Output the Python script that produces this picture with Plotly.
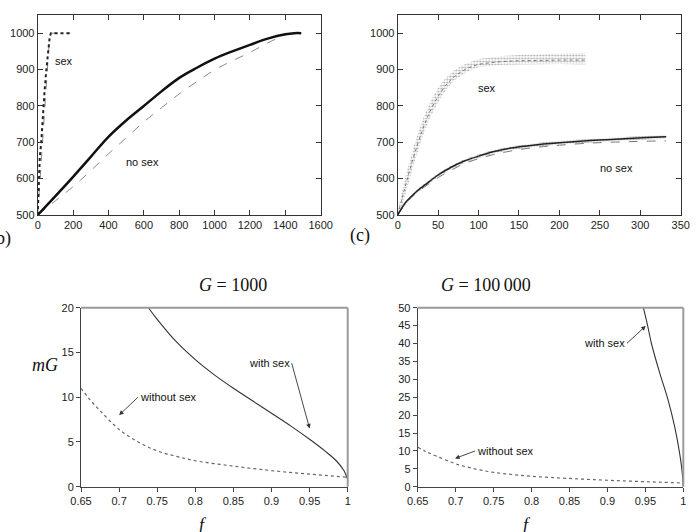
import plotly.graph_objects as go

# ---------------- data ----------------
# panel (b): fitness vs time, G = 1000
b_sex_x = [0, 5, 12, 20, 30, 40, 50, 60, 68, 75, 100, 140, 185]
b_sex_y = [500, 600, 660, 700, 780, 850, 905, 955, 990, 1000, 1000, 1000, 1000]
b_sex_th_x = [0, 10, 30, 50, 65, 75, 185]
b_sex_th_y = [500, 570, 720, 870, 975, 1000, 1000]
b_nosex_x = [0, 100, 200, 300, 400, 500, 600, 700, 800, 900, 1000, 1100, 1200, 1300, 1400, 1450, 1490]
b_nosex_y = [500, 552, 605, 660, 715, 760, 800, 840, 877, 905, 930, 950, 968, 985, 997, 1000, 1000]
b_nosex_th_y = [500, 539, 578, 622, 668, 712, 756, 795, 833, 867, 899, 924, 947, 973, 995, 1000, 1000]

# panel (c): fitness vs time, G = 100000 (noisy bands: lower / upper envelope)
c_sex_x = [0, 5, 10, 20, 30, 40, 50, 60, 70, 80, 90, 100, 115, 130, 150, 175, 200, 232]
c_sex_lo = [495, 520, 560, 640, 712, 768, 810, 845, 870, 886, 898, 906, 910, 913, 914, 915, 915, 914]
c_sex_hi = [510, 565, 610, 690, 758, 810, 850, 878, 898, 912, 921, 929, 933, 937, 940, 942, 944, 946]
c_sex_th = [500, 542, 584, 662, 730, 785, 826, 858, 880, 896, 907, 914, 919, 922, 924, 925, 926, 926]
c_nosex_x = [0, 10, 23, 35, 50, 65, 81, 100, 118, 140, 160, 180, 200, 225, 250, 275, 291, 310, 332]
c_nosex_lo = [497, 530, 559, 580, 605, 625, 642, 657, 669, 679, 685, 690, 694, 698, 701, 704, 706, 708, 710]
c_nosex_hi = [504, 539, 569, 590, 615, 635, 652, 667, 679, 689, 695, 700, 704, 708, 711, 714, 716, 718, 720]
c_nosex_mid = [500, 535, 564, 585, 610, 630, 647, 662, 674, 684, 690, 695, 699, 703, 706, 709, 711, 713, 715]
c_nosex_th = [500, 532, 560, 580, 603, 622, 640, 655, 666, 676, 683, 688, 692, 696, 699, 701, 702, 703, 704]

# panel G = 1000: mG vs f
d_sex_f = [0.7385, 0.75, 0.775, 0.8, 0.825, 0.85, 0.875, 0.9, 0.925, 0.95, 0.97, 0.985, 0.995, 1.0]
d_sex_mg = [20, 18.7, 16.2, 14.2, 12.5, 11.0, 9.6, 8.2, 6.8, 5.3, 4.0, 2.9, 1.8, 0.8]
nosex_f = [0.65, 0.66, 0.675, 0.7, 0.725, 0.75, 0.775, 0.8, 0.85, 0.9, 0.95, 1.0]
nosex_mg = [11.0, 9.9, 8.5, 6.4, 5.0, 4.0, 3.4, 2.9, 2.3, 1.8, 1.4, 1.05]

# panel G = 100000
e_sex_f = [0.9474, 0.953, 0.958, 0.969, 0.98, 0.9886, 0.9952, 0.9987, 1.0]
e_sex_mg = [50, 45, 40, 31.7, 24.2, 16.8, 9.3, 3.7, 0]

f_ticks = [0.65, 0.7, 0.75, 0.8, 0.85, 0.9, 0.95, 1.0]
f_labels = ["0.65", "0.7", "0.75", "0.8", "0.85", "0.9", "0.95", "1"]

# ---------------- figure ----------------
W, H = 700, 532
def px(x):
    return x / W
def py(y):
    return 1 - y / H

fig = go.Figure()

DARK = "#111111"
GRAY = "#8a8a8a"

# (b)
fig.add_trace(go.Scatter(x=b_sex_th_x, y=b_sex_th_y, mode="lines",
                         line=dict(color=GRAY, width=1, dash="dash"), xaxis="x", yaxis="y"))
fig.add_trace(go.Scatter(x=b_sex_x, y=b_sex_y, mode="lines",
                         line=dict(color="#222", width=2, dash="dot"), xaxis="x", yaxis="y"))
fig.add_trace(go.Scatter(x=b_nosex_x, y=b_nosex_th_y, mode="lines", line_shape="spline",
                         line=dict(color=GRAY, width=1, dash="dash"), xaxis="x", yaxis="y"))
fig.add_trace(go.Scatter(x=b_nosex_x, y=b_nosex_y, mode="lines", line_shape="spline",
                         line=dict(color=DARK, width=2.5), xaxis="x", yaxis="y"))

# (c)
fig.add_trace(go.Scatter(x=c_sex_x, y=c_sex_lo, mode="lines",
                         line=dict(width=0, color="rgba(0,0,0,0)"), xaxis="x2", yaxis="y2"))
fig.add_trace(go.Scatter(x=c_sex_x, y=c_sex_hi, mode="lines",
                         line=dict(width=0, color="rgba(0,0,0,0)"),
                         fill="tonexty", fillcolor="rgba(180,180,180,0.35)",
                         fillpattern=dict(shape=".", fgcolor="#555", bgcolor="rgba(0,0,0,0)",
                                          size=3, solidity=0.35),
                         xaxis="x2", yaxis="y2"))
fig.add_trace(go.Scatter(x=c_sex_x, y=c_sex_th, mode="lines", line_shape="spline",
                         line=dict(color="#777", width=1, dash="dot"), xaxis="x2", yaxis="y2"))
fig.add_trace(go.Scatter(x=c_nosex_x, y=c_nosex_lo, mode="lines",
                         line=dict(width=0, color="rgba(0,0,0,0)"), xaxis="x2", yaxis="y2"))
fig.add_trace(go.Scatter(x=c_nosex_x, y=c_nosex_hi, mode="lines",
                         line=dict(width=0, color="rgba(0,0,0,0)"),
                         fill="tonexty", fillcolor="rgba(110,110,110,0.35)",
                         fillpattern=dict(shape=".", fgcolor="#333", bgcolor="rgba(0,0,0,0)",
                                          size=3, solidity=0.4),
                         xaxis="x2", yaxis="y2"))
fig.add_trace(go.Scatter(x=c_nosex_x, y=c_nosex_th, mode="lines", line_shape="spline",
                         line=dict(color="#777", width=1, dash="dash"), xaxis="x2", yaxis="y2"))
fig.add_trace(go.Scatter(x=c_nosex_x, y=c_nosex_mid, mode="lines", line_shape="spline",
                         line=dict(color="#222", width=1.5), xaxis="x2", yaxis="y2"))

# G = 1000
fig.add_trace(go.Scatter(x=nosex_f, y=nosex_mg, mode="lines", line_shape="spline",
                         line=dict(color="#666", width=1.2, dash="dot"), xaxis="x3", yaxis="y3"))
fig.add_trace(go.Scatter(x=d_sex_f, y=d_sex_mg, mode="lines", line_shape="spline",
                         line=dict(color="#333", width=1.1), xaxis="x3", yaxis="y3"))
# G = 100000
fig.add_trace(go.Scatter(x=nosex_f, y=nosex_mg, mode="lines", line_shape="spline",
                         line=dict(color="#666", width=1.2, dash="dot"), xaxis="x4", yaxis="y4"))
fig.add_trace(go.Scatter(x=e_sex_f, y=e_sex_mg, mode="lines", line_shape="spline",
                         line=dict(color="#333", width=1.1), xaxis="x4", yaxis="y4"))

tickfont = dict(family="Liberation Sans, Arial, sans-serif", size=11, color="#222")

top_x = dict(showline=True, linecolor="#333", linewidth=1, mirror="allticks", ticks="inside",
             ticklen=5, tickcolor="#333", showgrid=False, zeroline=False, tickfont=tickfont,
             automargin=False)
top_y = dict(showline=True, linecolor="#333", linewidth=1, mirror="allticks", ticks="inside",
             ticklen=5, tickcolor="#333", showgrid=False, zeroline=False, tickfont=tickfont,
             range=[500, 1050], tickvals=[500, 600, 700, 800, 900, 1000], automargin=False)
bot_x = dict(showline=True, linecolor="#444", linewidth=1, ticks="outside", ticklen=4,
             tickcolor="#444", showgrid=False, zeroline=False, tickfont=tickfont,
             range=[0.65, 1.0], tickvals=f_ticks, ticktext=f_labels, automargin=False)
bot_y = dict(showline=True, linecolor="#444", linewidth=1, ticks="outside", ticklen=4,
             tickcolor="#444", showgrid=False, zeroline=False, tickfont=tickfont,
             automargin=False)

fig.update_layout(
    width=W, height=H, margin=dict(l=0, r=0, t=0, b=0, autoexpand=False),
    paper_bgcolor="white", plot_bgcolor="white", showlegend=False,
    xaxis=dict(top_x, domain=[px(37.7), px(320.7)], range=[0, 1600], dtick=200, anchor="y"),
    yaxis=dict(top_y, domain=[py(215), py(15)], anchor="x"),
    xaxis2=dict(top_x, domain=[px(397.7), px(680.7)], range=[0, 350], dtick=50, anchor="y2"),
    yaxis2=dict(top_y, domain=[py(215), py(15)], anchor="x2"),
    xaxis3=dict(bot_x, domain=[px(81), px(347.7)], anchor="y3"),
    yaxis3=dict(bot_y, domain=[py(486.7), py(307.7)], range=[0, 20], dtick=5, anchor="x3"),
    xaxis4=dict(bot_x, domain=[px(417.7), px(683.3)], anchor="y4"),
    yaxis4=dict(bot_y, domain=[py(486.7), py(307.7)], range=[0, 50], dtick=5, anchor="x4"),
)

# gray top/right frame on lower panels
for xr, yr in [("x3", "y3"), ("x4", "y4")]:
    fig.add_shape(type="line", xref=f"{xr} domain", yref=f"{yr} domain", x0=0, x1=1, y0=1, y1=1,
                  line=dict(color="#9a9a9a", width=2))
    fig.add_shape(type="line", xref=f"{xr} domain", yref=f"{yr} domain", x0=1, x1=1, y0=0, y1=1,
                  line=dict(color="#9a9a9a", width=2))

lab = dict(family="Liberation Sans, Arial, sans-serif", size=11, color="#111")
serif = dict(family="Liberation Serif, DejaVu Serif, serif", size=18, color="#111")

ann = [
    dict(x=146, y=924, xref="x", yref="y", text="sex", showarrow=False, font=lab),
    dict(x=590, y=647, xref="x", yref="y", text="no sex", showarrow=False, font=lab),
    dict(x=110, y=849, xref="x2", yref="y2", text="sex", showarrow=False, font=lab),
    dict(x=270, y=628, xref="x2", yref="y2", text="no sex", showarrow=False, font=lab),
    dict(x=px(-12), y=py(238), xref="paper", yref="paper", text="(b)", showarrow=False,
         xanchor="left", font=serif),
    dict(x=px(360), y=py(236), xref="paper", yref="paper", text="(c)", showarrow=False,
         font=serif),
    dict(x=px(197), y=py(285), xref="paper", yref="paper", text="<i>G</i> = 1000",
         showarrow=False, font=serif),
    dict(x=px(533), y=py(285), xref="paper", yref="paper", text="<i>G</i> = 100\u2009000",
         showarrow=False, font=serif),
    dict(x=px(30), y=py(377), xref="paper", yref="paper", text="<i>mG</i>",
         showarrow=False, font=serif),
    dict(x=px(197), y=py(537), xref="paper", yref="paper", text="<i>f</i>", yanchor="bottom",
         showarrow=False, font=serif),
    dict(x=px(533), y=py(537), xref="paper", yref="paper", text="<i>f</i>", yanchor="bottom",
         showarrow=False, font=serif),
    # arrows G=1000
    dict(x=0.700, y=8.0, ax=0.7248, ay=10.0, xref="x3", yref="y3", axref="x3", ayref="y3",
         text="without sex", xanchor="left", showarrow=True, arrowhead=2, arrowsize=1,
         arrowwidth=0.9, arrowcolor="#333", font=lab),
    dict(x=0.950, y=6.5, ax=0.9265, ay=13.8, xref="x3", yref="y3", axref="x3", ayref="y3",
         text="with sex", xanchor="right", showarrow=True, arrowhead=2, arrowsize=1,
         arrowwidth=0.9, arrowcolor="#333", font=lab),
    # arrows G=100000
    dict(x=0.6992, y=7.9, ax=0.7255, ay=9.97, xref="x4", yref="y4", axref="x4", ayref="y4",
         text="without sex", xanchor="left", showarrow=True, arrowhead=2, arrowsize=1,
         arrowwidth=0.9, arrowcolor="#333", font=lab),
    dict(x=0.9504, y=44.9, ax=0.9258, ay=40.06, xref="x4", yref="y4", axref="x4", ayref="y4",
         text="with sex", xanchor="right", showarrow=True, arrowhead=2, arrowsize=1,
         arrowwidth=0.9, arrowcolor="#333", font=lab),
]
fig.update_layout(annotations=ann)

fig.write_html("out.html")
